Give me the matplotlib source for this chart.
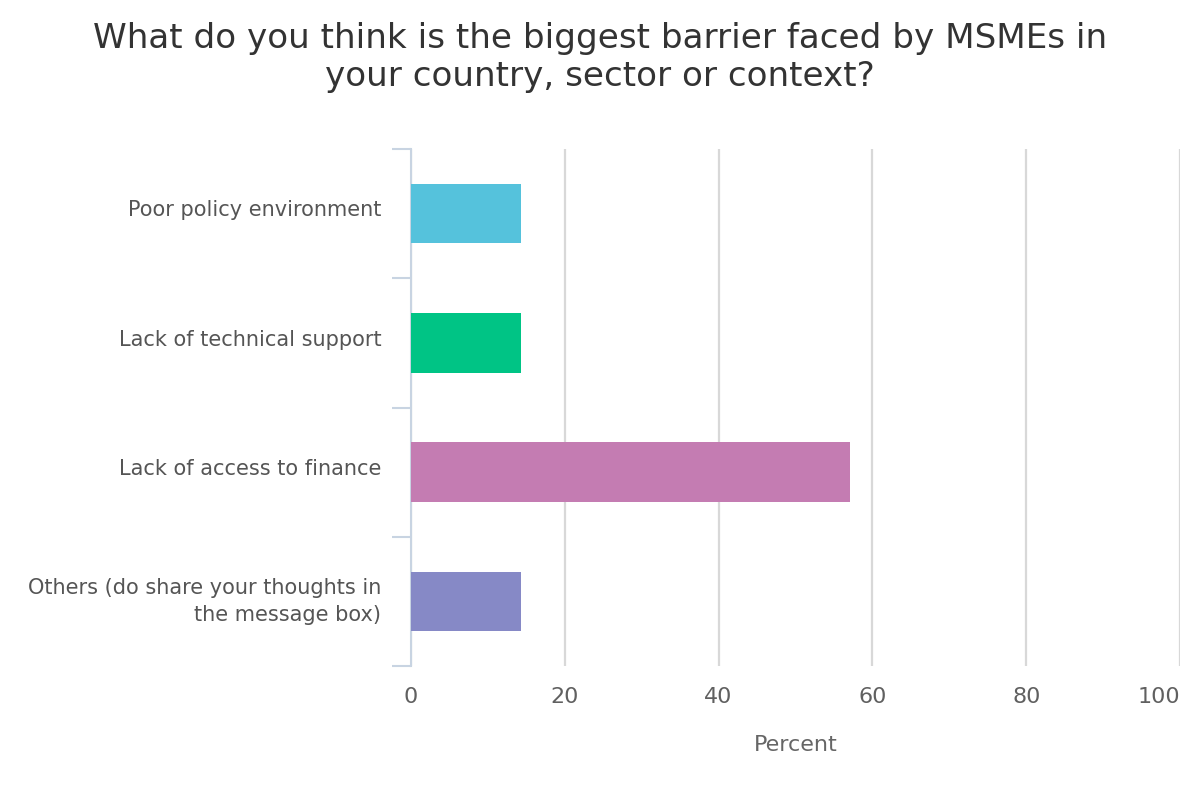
#!/usr/bin/env python3
"""Horizontal bar chart: biggest barrier faced by MSMEs."""
import matplotlib
matplotlib.use("Agg")
import matplotlib.pyplot as plt
from matplotlib.ticker import FixedLocator

categories = [
    "Poor policy environment",
    "Lack of technical support",
    "Lack of access to finance",
    "Others (do share your thoughts in\nthe message box)",
]
percent = [14.29, 14.29, 57.14, 14.29]
colors = ["#55c2dc", "#00c485", "#c47cb2", "#8689c6"]
x_ticks = [0, 20, 40, 60, 80, 100]

plt.rcParams["font.family"] = ["DejaVu Sans"]

fig = plt.figure(figsize=(12, 8), dpi=100)
ax = fig.add_axes([411 / 1200, 1 - 666 / 800, (1180 - 411) / 1200, (666 - 149) / 800])

ypos = list(range(len(categories)))
ax.barh(ypos, percent, height=0.46, color=colors, zorder=3)
ax.set_ylim(len(categories) - 0.5, -0.5)
ax.set_xlim(0, 100)

ax.set_xticks(x_ticks)
ax.set_xticklabels([str(t) for t in x_ticks], fontsize=16, color="#606060")
ax.get_xticklabels()[-1].set_ha("right")
ax.tick_params(axis="x", length=0, pad=15)
ax.grid(axis="x", color="#d8d8d8", linewidth=1.6, zorder=0)

# labels sit slightly above the band centre, as in the original
ax.set_yticks([y - 0.04 for y in ypos])
ax.set_yticklabels(categories, fontsize=15, color="#555555", ha="right", linespacing=1.45)
ax.yaxis.set_minor_locator(FixedLocator([i - 0.5 for i in range(len(categories) + 1)]))
ax.tick_params(axis="y", which="major", length=0, pad=21.5)
ax.tick_params(axis="y", which="minor", length=13.7, width=1.5, color="#c8d4e2")

for side in ["top", "right", "bottom"]:
    ax.spines[side].set_visible(False)
ax.spines["left"].set_color("#c8d4e2")
ax.spines["left"].set_linewidth(1.5)

ax.set_xlabel("Percent", fontsize=16, color="#666666", labelpad=20)

fig.text(0.5, 0.973, "What do you think is the biggest barrier faced by MSMEs in\nyour country, sector or context?",
         ha="center", va="top", fontsize=24.6, color="#333333", linespacing=1.2)

fig.savefig("out.png", dpi=100)
